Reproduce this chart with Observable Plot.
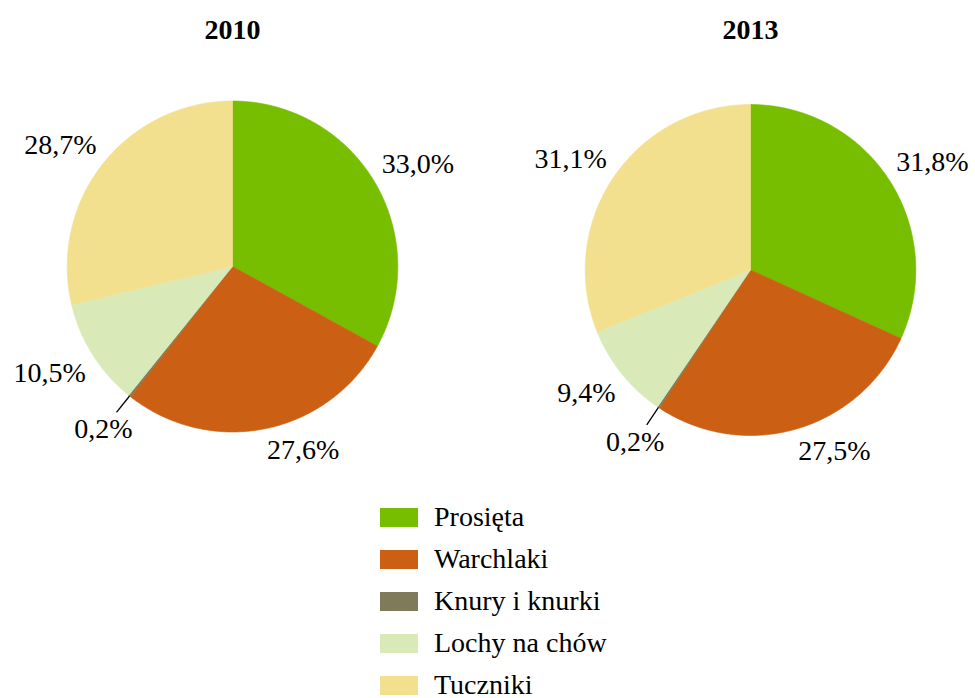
<!DOCTYPE html>
<html><head><meta charset="utf-8">
<script src="https://cdn.jsdelivr.net/npm/d3@7"></script>
<script src="https://cdn.jsdelivr.net/npm/@observablehq/plot@0.6"></script>
<style>
body{margin:0;background:#fff;font-family:"Liberation Serif","Times New Roman",serif;}
#legend{margin-left:380px;padding-top:16px;}
.lg-swatch{height:42px;padding-bottom:0 !important;}
.lg-swatch > svg{margin-right:16px !important;}
</style></head><body><div id="chart"></div><div id="legend"></div>
<script>
const years = ["2010", "2013"];
const categories = ["Prosięta", "Warchlaki", "Knury i knurki", "Lochy na chów", "Tuczniki"];
const values2010 = [33.0, 27.6, 0.2, 10.5, 28.7];
const values2013 = [31.8, 27.5, 0.2, 9.4, 31.1];
const colors = ["#77bd00", "#cb5f13", "#7f7a5a", "#d9eab8", "#f3e08f"];

// layout
const W = 975, H = 480, R = 165.5, CY = 266, FS = 28;
const yShift = {"2010": 0, "2013": 3.5};
const ML = 8, MR = 0, STEP = 518.5;
const pad = 2 - (W - ML - MR) / STEP;
const BW = STEP * (1 - pad);
const FONT = "Liberation Serif, Times New Roman, serif";

const fmt = v => d3.format(".1f")(v).replace(".", ",") + "%";
const emW = {"0":0.5,"1":0.5,"2":0.5,"3":0.5,"4":0.5,"5":0.5,"6":0.5,"7":0.5,"8":0.5,"9":0.5,",":0.25,"%":0.833};
const textW = s => [...s].reduce((a, c) => a + (emW[c] ?? 0.5), 0) * FS;
const LH = 28;

const sliceRows = [], labelRows = [], leaderRows = [];
const series = {"2010": values2010, "2013": values2013};
for (const year of years) {
  const vals = series[year];
  const dy = yShift[year];
  const total = d3.sum(vals);
  let acc = 0;
  vals.forEach((v, i) => {
    const a0 = acc / total * 2 * Math.PI;
    acc += v;
    const a1 = acc / total * 2 * Math.PI;
    const key = year + "-" + i;
    const cat = categories[i];
    sliceRows.push({year, cat, key, x: 0, y: dy});
    const n = Math.max(2, Math.ceil((a1 - a0) / (Math.PI / 360)));
    for (let k = 0; k <= n; k++) {
      const a = a0 + (a1 - a0) * k / n;
      sliceRows.push({year, cat, key, x: R * Math.sin(a), y: dy - R * Math.cos(a)});
    }
    sliceRows.push({year, cat, key, x: 0, y: dy});
    const am = (a0 + a1) / 2;
    const s = Math.sin(am), c = Math.cos(am);
    const label = fmt(v);
    if (v < 1) {
      leaderRows.push({year, x1: R * s, y1: dy - R * c, x2: (R + 21) * s, y2: dy - (R + 21) * c});
      labelRows.push({year, label, x: (R + 42) * s, y: dy - (R + 42) * c});
    } else {
      const w = textW(label);
      const px = (R + 8) * s, py = dy - (R + 8) * c;
      labelRows.push({year, label, x: px + Math.sign(s) * w / 2, y: py + Math.sign(-c) * LH / 2});
    }
  });
}

const chart = Plot.plot({
  width: W,
  height: H,
  marginLeft: ML,
  marginRight: MR,
  marginTop: 0,
  marginBottom: 0,
  style: {fontFamily: FONT, background: "white", color: "black"},
  fx: {domain: years, paddingInner: pad, paddingOuter: 0, axis: null},
  x: {domain: [-BW / 2, BW / 2], axis: null},
  y: {domain: [-CY, H - CY], reverse: true, axis: null},
  color: {domain: categories, range: colors},
  marks: [
    Plot.line(sliceRows, {fx: "year", x: "x", y: "y", z: "key", fill: "cat", stroke: "cat", strokeWidth: 0.6, curve: "linear"}),
    Plot.link(leaderRows, {fx: "year", x1: "x1", y1: "y1", x2: "x2", y2: "y2", stroke: "black", strokeWidth: 1.3}),
    Plot.text(labelRows, {fx: "year", x: "x", y: "y", text: "label", fontSize: FS, fontFamily: FONT, fill: "black", textAnchor: "middle", lineAnchor: "middle"}),
    Plot.text(years, {fx: d => d, x: () => 0, y: () => -236, text: d => d, fontSize: 28, fontFamily: FONT, fontWeight: "bold", fill: "black", lineAnchor: "middle"})
  ]
});
document.getElementById("chart").append(chart);

const legend = chart.legend("color", {
  legend: "swatches",
  columns: 1,
  swatchWidth: 38,
  swatchHeight: 19,
  className: "lg",
  style: {fontFamily: FONT, fontSize: "28px", color: "black", margin: "0"}
});
document.getElementById("legend").append(legend);
</script>
</body></html>
